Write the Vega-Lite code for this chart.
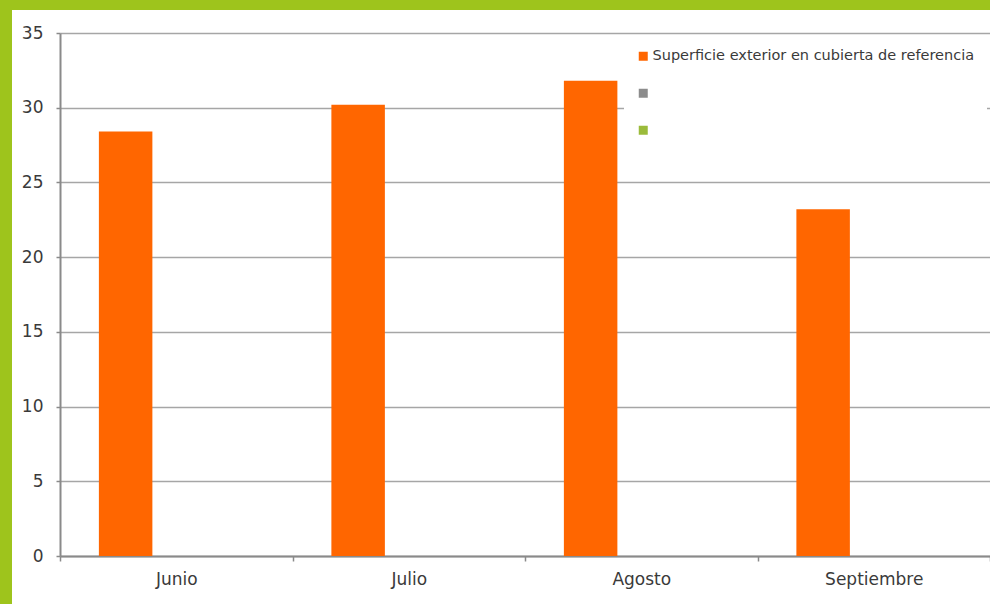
{
  "$schema": "https://vega.github.io/schema/vega-lite/v6.json",
  "width": 978,
  "height": 594,
  "autosize": {"type": "none"},
  "padding": {"left": 12, "top": 10, "right": 0, "bottom": 0},
  "background": "#9EC41C",
  "config": {
    "view": {"fill": "#ffffff", "stroke": null},
    "font": "DejaVu Sans"
  },
  "data": {
    "values": [
      {"mes": "Junio", "serie": "Superficie exterior en cubierta de referencia", "valor": 28.4},
      {"mes": "Junio", "serie": "Serie 2", "valor": null},
      {"mes": "Junio", "serie": "Serie 3", "valor": null},
      {"mes": "Julio", "serie": "Superficie exterior en cubierta de referencia", "valor": 30.2},
      {"mes": "Julio", "serie": "Serie 2", "valor": null},
      {"mes": "Julio", "serie": "Serie 3", "valor": null},
      {"mes": "Agosto", "serie": "Superficie exterior en cubierta de referencia", "valor": 31.8},
      {"mes": "Agosto", "serie": "Serie 2", "valor": null},
      {"mes": "Agosto", "serie": "Serie 3", "valor": null},
      {"mes": "Septiembre", "serie": "Superficie exterior en cubierta de referencia", "valor": 23.2},
      {"mes": "Septiembre", "serie": "Serie 2", "valor": null},
      {"mes": "Septiembre", "serie": "Serie 3", "valor": null}
    ]
  },
  "mark": {"type": "bar"},
  "encoding": {
    "x": {
      "field": "mes",
      "type": "nominal",
      "sort": ["Junio", "Julio", "Agosto", "Septiembre"],
      "scale": {
        "domain": ["Junio", "Julio", "Agosto", "Septiembre"],
        "range": [48, 978],
        "paddingInner": 0,
        "paddingOuter": 0
      },
      "axis": {
        "title": null,
        "labelAngle": 0,
        "offset": -48,
        "tickBand": "extent",
        "tickSize": 5,
        "tickWidth": 1.5,
        "tickColor": "#8a8a8a",
        "domainColor": "#8a8a8a",
        "domainWidth": 2,
        "labelFontSize": 17,
        "labelColor": "#3a3a3a",
        "labelPadding": 10,
        "grid": false
      }
    },
    "xOffset": {
      "field": "serie",
      "type": "nominal",
      "scale": {
        "domain": ["Superficie exterior en cubierta de referencia", "Serie 2", "Serie 3"],
        "paddingInner": 0,
        "paddingOuter": 0.673,
        "align": 0.54
      }
    },
    "y": {
      "field": "valor",
      "type": "quantitative",
      "stack": null,
      "scale": {"domain": [0, 35], "range": [546, 23], "nice": false, "zero": true},
      "axis": {
        "title": null,
        "values": [0, 5, 10, 15, 20, 25, 30, 35],
        "offset": -48,
        "domainColor": "#8a8a8a",
        "domainWidth": 2,
        "tickColor": "#8a8a8a",
        "tickSize": 4,
        "tickWidth": 1.5,
        "grid": true,
        "gridColor": "#a6a6a6",
        "gridWidth": 1.5,
        "labelFontSize": 17,
        "labelColor": "#3a3a3a",
        "labelPadding": 13
      }
    },
    "color": {
      "field": "serie",
      "type": "nominal",
      "scale": {
        "domain": ["Superficie exterior en cubierta de referencia", "Serie 2", "Serie 3"],
        "range": ["#FF6600", "#8C8C8C", "#9BBB3B"]
      },
      "legend": {
        "title": null,
        "orient": "none",
        "legendX": 612,
        "legendY": 27,
        "fillColor": "#ffffff",
        "padding": 12,
        "symbolType": "square",
        "symbolSize": 81,
        "symbolStrokeWidth": 0,
        "labelFontSize": 14.5,
        "labelColor": "#3a3a3a",
        "labelOffset": 2,
        "rowPadding": 22,
        "labelLimit": 400,
        "labelExpr": "datum.label == 'Superficie exterior en cubierta de referencia' ? datum.label : ''"
      }
    }
  }
}
